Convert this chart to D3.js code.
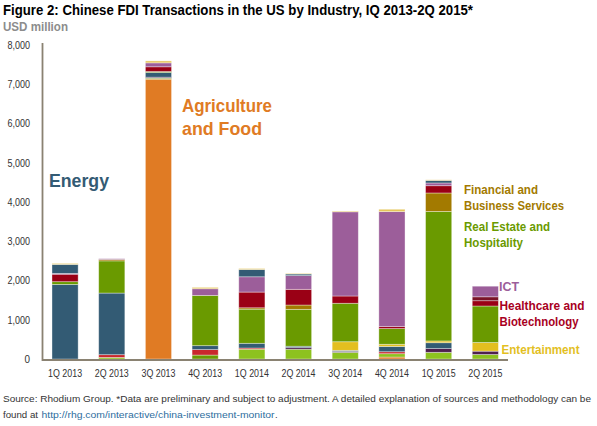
<!DOCTYPE html>
<html><head><meta charset="utf-8">
<script src="https://cdn.jsdelivr.net/npm/d3@7"></script>
<style>
html,body{margin:0;padding:0;background:#fff;}
svg{display:block;font-family:"Liberation Sans",Arial,sans-serif;}
</style></head>
<body><svg id="c" width="597" height="426"></svg>
<script>
const quarters = ["1Q 2013","2Q 2013","3Q 2013","4Q 2013","1Q 2014","2Q 2014","3Q 2014","4Q 2014","1Q 2015","2Q 2015"];
const yTicks = [0,1000,2000,3000,4000,5000,6000,7000,8000];

// series values, USD million (bottom to top of stack)
const agriculture   = [0,0,7130,0,0,0,0,50,0,0];
const basicMaterials= [0,0,0,100,0,0,0,0,0,0];
const automotive    = [0,40,25,0,250,250,170,85,170,115];
const transport     = [0,70,0,140,30,0,0,50,0,0];
const electronics   = [0,0,25,0,0,40,25,0,95,85];
const energy        = [1900,1570,120,100,120,35,25,135,150,0];
const entertainment = [0,0,0,0,0,0,220,55,45,220];
const realEstate    = [70,820,25,1280,870,940,980,400,3300,930];
const financial     = [0,35,0,0,35,110,0,0,470,0];
const healthcare    = [190,0,120,0,400,400,185,50,185,135];
const industrial    = [0,0,0,0,0,0,0,0,0,100];
const ict           = [20,20,100,170,390,350,2145,2930,70,270];
const consumer      = [230,0,0,0,185,40,0,0,65,0];
const other         = [25,0,50,35,25,15,20,60,15,0];

const seriesNames = ["Agriculture and Food","Basic Materials","Automotive","Transport","Electronics","Energy","Entertainment","Real Estate and Hospitality","Financial and Business Services","Healthcare and Biotechnology","Industrial Machinery","ICT","Consumer Products","Other"];
const seriesValues = [agriculture,basicMaterials,automotive,transport,electronics,energy,entertainment,realEstate,financial,healthcare,industrial,ict,consumer,other];
const seriesColors = ["#e07b24","#6a9a00","#8dc21f","#c9282d","#4f1f4f","#335b74","#e3bf1f","#6a9a00","#a37a00","#9a0015","#7a1428","#9c5e9a","#335b74","#e5c55a"];

const rows = quarters.map((q,i)=>{const r={q}; seriesNames.forEach((s,j)=>r[s]=seriesValues[j][i]); return r;});
const stack = d3.stack().keys(seriesNames)(rows);

const svg = d3.select("#c");
const x = d3.scaleBand().domain(quarters).range([42,508.4]).paddingInner(0.44).paddingOuter(0.214);
const y = d3.scaleLinear().domain([0,8000]).range([359,45]);

// bars
svg.append("g").selectAll("g").data(stack).join("g")
  .attr("fill",(d,i)=>seriesColors[i])
  .selectAll("rect").data(d=>d.filter(p=>p[1]-p[0]>0)).join("rect")
  .attr("x",d=>x(d.data.q)).attr("width",x.bandwidth())
  .attr("y",d=>y(d[1])).attr("height",d=>y(d[0])-y(d[1]))
  .attr("stroke","#fff").attr("stroke-opacity",0.45).attr("stroke-width",0.8);

// y axis
const yAxis = svg.append("g").attr("transform","translate(42.5,0)")
  .call(d3.axisLeft(y).tickValues(yTicks).tickFormat(d3.format(",")).tickSize(0).tickPadding(12.5));
yAxis.select(".domain").remove();
yAxis.selectAll("text").attr("font-size",10.5).attr("fill","#333").attr("font-family","Liberation Sans, Arial, sans-serif")
  .attr("textLength",d=>d===0?5.5:22.5).attr("lengthAdjust","spacingAndGlyphs");
svg.append("line").attr("x1",42.5).attr("x2",42.5).attr("y1",43).attr("y2",361).attr("stroke","#8a8272").attr("stroke-width",1.8);

// x axis
const xAxis = svg.append("g").attr("transform","translate(0,360)")
  .call(d3.axisBottom(x).tickSize(0).tickPadding(10));
xAxis.select(".domain").remove();
xAxis.selectAll("text").attr("font-size",10).attr("fill","#333").attr("font-family","Liberation Sans, Arial, sans-serif")
  .attr("textLength",34).attr("lengthAdjust","spacingAndGlyphs");
svg.append("line").attr("x1",42).attr("x2",508).attr("y1",360).attr("y2",360).attr("stroke","#8a8272").attr("stroke-width",2);

function fitText(sel,w){ sel.attr("textLength",w).attr("lengthAdjust","spacingAndGlyphs"); return sel; }

// title
fitText(svg.append("text").attr("x",3).attr("y",14.5).attr("font-size",14.5).attr("font-weight","bold").attr("fill","#000")
  .text("Figure 2: Chinese FDI Transactions in the US by Industry, IQ 2013-2Q 2015*"),470);
fitText(svg.append("text").attr("x",3).attr("y",31).attr("font-size",12.5).attr("font-weight","bold").attr("fill","#8c8c8c")
  .text("USD million"),65);

// annotations
function label(lines,widths,xp,yp,size,color,lh){
  lines.forEach((l,i)=>fitText(svg.append("text").attr("x",xp).attr("y",yp+i*lh).attr("font-size",size)
    .attr("font-weight","bold").attr("fill",color).text(l),widths[i]));
}
label(["Energy"],[60],49,186.5,18.5,"#335b74",0);
label(["Agriculture","and Food"],[90,80],182,112,18.5,"#e07b24",23);
label(["Financial and","Business Services"],[74,100],464,194,13,"#a37a00",16);
label(["Real Estate and","Hospitality"],[86,59],464,231,13,"#6a9a00",16);
label(["ICT"],[20],499,290.5,13,"#9c5e9a",0);
label(["Healthcare and","Biotechnology"],[85,79],499.5,309.5,13,"#a8001e",16);
label(["Entertainment"],[78],501.5,354,13,"#e3bf1f",0);

// footer
fitText(svg.append("text").attr("x",3).attr("y",402).attr("font-size",9.5).attr("fill","#333")
  .text("Source: Rhodium Group. *Data are preliminary and subject to adjustment. A detailed explanation of sources and methodology can be"),588);
fitText(svg.append("text").attr("x",3).attr("y",418).attr("font-size",9.5).attr("fill","#333").text("found at"),35);
fitText(svg.append("text").attr("x",41.5).attr("y",418).attr("font-size",9.5).attr("fill","#2e6e9e")
  .text("http://rhg.com/interactive/china-investment-monitor"),233);
svg.append("text").attr("x",275).attr("y",418).attr("font-size",9.5).attr("fill","#333").text(".");
</script></body></html>
